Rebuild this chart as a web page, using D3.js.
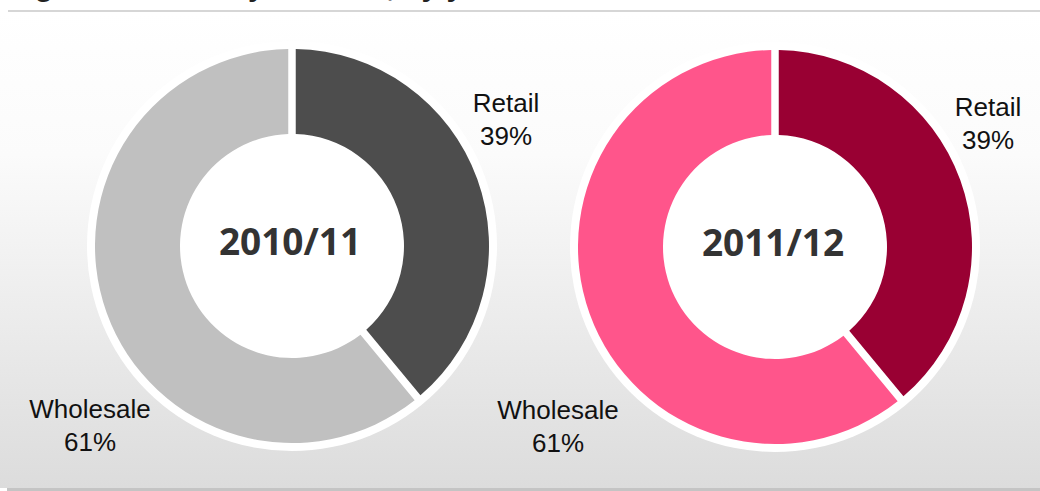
<!DOCTYPE html>
<html>
<head>
<meta charset="utf-8">
<script src="https://cdn.jsdelivr.net/npm/d3@7"></script>
<style>
  html, body { margin: 0; padding: 0; background: #fff; }
  svg { display: block; }
</style>
</head>
<body>
<script>
'use strict';

// chart data
const years = ["2010/11", "2011/12"];
const segments = ["Retail", "Wholesale"];
const retailShare = [39, 39];
const wholesaleShare = [61, 61];
const palettes = [["#4d4d4d", "#c0c0c0"], ["#990033", "#ff558b"]];

(function() {
  const width = 1040, height = 491;
  const outerR = 197, innerR = 112, ringW = 8;

  // layout of each donut and where its labels go (offsets from centre)
  const layout = [
    { cx: 292, cy: 246, labels: [[214, -134], [-202, 172]] },
    { cx: 775, cy: 247, labels: [[213, -131], [-217, 172]] }
  ];

  const svg = d3.select('body').append('svg')
    .attr('width', width)
    .attr('height', height);

  // background gradient
  const grad = svg.append('defs').append('linearGradient')
    .attr('id', 'bg')
    .attr('x1', 0).attr('y1', 0).attr('x2', 0).attr('y2', 1);
  grad.append('stop').attr('offset', '0%').attr('stop-color', '#ffffff');
  grad.append('stop').attr('offset', '30%').attr('stop-color', '#fbfbfb');
  grad.append('stop').attr('offset', '100%').attr('stop-color', '#dcdcdc');

  svg.append('rect')
    .attr('x', 0).attr('y', 12)
    .attr('width', width).attr('height', 476)
    .attr('fill', 'url(#bg)');

  // title sits above the visible area, only its descenders peek in
  svg.append('text')
    .attr('x', 8).attr('y', -4)
    .style('font-family', 'Liberation Sans, Arial, sans-serif')
    .style('font-weight', 'bold')
    .style('font-size', '30px')
    .attr('fill', '#222')
    .text('Figure 4: Sales by channel, by year');

  // frame lines
  svg.append('line')
    .attr('x1', 8).attr('x2', width).attr('y1', 11).attr('y2', 11)
    .attr('stroke', '#c8c8c8').attr('stroke-width', 1.5);
  svg.append('rect')
    .attr('x', 7).attr('y', 488).attr('width', width - 7).attr('height', 3)
    .attr('fill', '#c4c4c4');

  const pie = d3.pie().sort(null).value((d) => d.value);
  const arc = d3.arc()
    .innerRadius(innerR)
    .outerRadius(outerR)
    .padRadius(100)
    .padAngle(0.075);

  years.forEach((year, i) => {
    const values = [
      { name: segments[0], value: retailShare[i] },
      { name: segments[1], value: wholesaleShare[i] }
    ];
    const colour = d3.scaleOrdinal().domain(segments).range(palettes[i]);
    const L = layout[i];

    const g = svg.append('g')
      .attr('transform', 'translate(' + L.cx + ',' + L.cy + ')');

    // white halo behind the ring
    g.append('circle')
      .attr('r', outerR + ringW)
      .attr('fill', '#ffffff');

    g.selectAll('path')
      .data(pie(values))
      .enter()
      .append('path')
        .attr('d', arc)
        .attr('fill', (d) => colour(d.data.name));

    // year in the hole
    g.append('text')
      .attr('x', -2).attr('y', 9)
      .attr('text-anchor', 'middle')
      .style('font-family', 'Open Sans, sans-serif')
      .style('font-weight', 'bold')
      .style('font-size', '37px')
      .attr('fill', '#333')
      .text(year);

    // segment labels
    values.forEach((v, j) => {
      const t = g.append('text')
        .attr('text-anchor', 'middle')
        .style('font-family', 'Liberation Sans, Arial, sans-serif')
        .style('font-size', '26px')
        .attr('fill', '#111');
      t.append('tspan')
        .attr('x', L.labels[j][0]).attr('y', L.labels[j][1])
        .text(v.name);
      t.append('tspan')
        .attr('x', L.labels[j][0]).attr('dy', 33)
        .text(v.value + '%');
    });
  });
})();
</script>
</body>
</html>
